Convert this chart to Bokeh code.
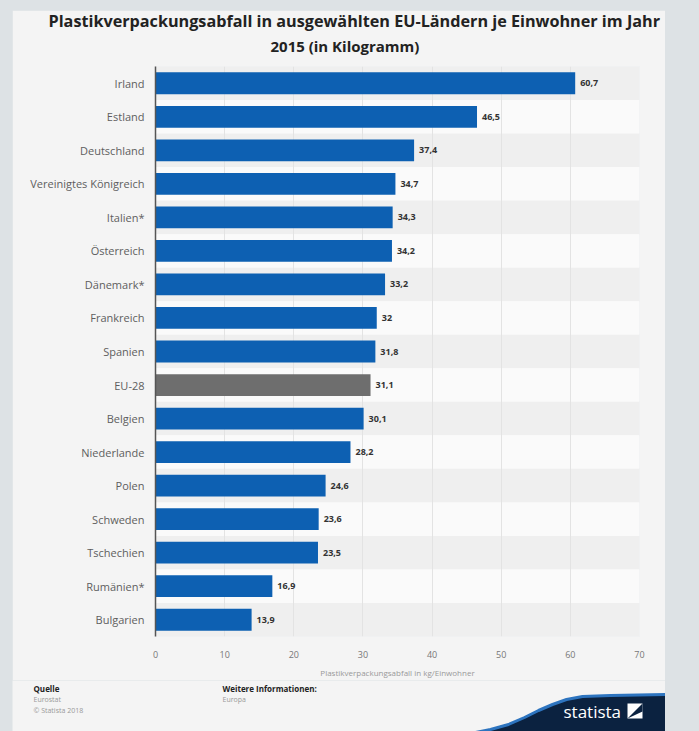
from bokeh.plotting import figure
from bokeh.layouts import column, row
from bokeh.models import FactorRange, Range1d, FixedTicker, ColumnDataSource, Title, Spacer
from bokeh.core.properties import value
from bokeh.embed import file_html
from bokeh.resources import INLINE

countries = ["Irland", "Estland", "Deutschland", "Vereinigtes Königreich", "Italien*",
             "Österreich", "Dänemark*", "Frankreich", "Spanien", "EU-28", "Belgien",
             "Niederlande", "Polen", "Schweden", "Tschechien", "Rumänien*", "Bulgarien"]
values = [60.7, 46.5, 37.4, 34.7, 34.3, 34.2, 33.2, 32, 31.8, 31.1, 30.1, 28.2,
          24.6, 23.6, 23.5, 16.9, 13.9]
x_ticks = [0, 10, 20, 30, 40, 50, 60, 70]

title_1 = "Plastikverpackungsabfall in ausgewählten EU-Ländern je Einwohner im Jahr"
title_2 = "2015 (in Kilogramm)"
x_label = "Plastikverpackungsabfall in kg/Einwohner"
source_head = "Quelle"
source_lines = ["Eurostat", "© Statista 2018"]
info_head = "Weitere Informationen:"
info_lines = ["Europa"]
brand = "statista"

BLUE = "#0d60b2"
GREY_BAR = "#6e6e6e"
PANEL = "#f4f4f4"
OUTER = "#dde2e5"
NAVY = "#0b2240"
FONT = "Open Sans"

def fmt(v):
    return ("%g" % v).replace(".", ",")

colors = [GREY_BAR if c == "EU-28" else BLUE for c in countries]
band_colors = ["#efefef" if i % 2 == 0 else "#fafafa" for i in range(len(countries))]
src = ColumnDataSource(dict(country=countries, val=values, color=colors,
                            label=[fmt(v) for v in values],
                            full=[x_ticks[-1]] * len(countries), band=band_colors))

W = 653
p = figure(width=W, height=670, y_range=FactorRange(*countries[::-1]),
           x_range=Range1d(0, 70), output_backend="svg", toolbar_location=None,
           min_border_left=143, min_border_right=26, min_border_top=56, min_border_bottom=44)
p.border_fill_color = PANEL
p.background_fill_color = "#fafafa"
p.outline_line_color = None

bands = p.hbar(y="country", left=0, right="full", height=1.0, source=src,
               fill_color="band", line_color=None)
bands.level = "image"

p.hbar(y="country", left=0, right="val", height=0.65, source=src,
       fill_color="color", line_color=None)
p.text(x="val", y="country", text="label", source=src, x_offset=5,
       text_font=value(FONT), text_font_size="9px", text_font_style="bold",
       text_color="#333333", text_baseline="middle", text_align="left")

p.ygrid.grid_line_color = None
p.xgrid.grid_line_color = "#e3e3e3"
p.xgrid.grid_line_width = 1

p.xaxis.ticker = FixedTicker(ticks=x_ticks)
p.xaxis.axis_line_color = None
p.xaxis.major_tick_line_color = None
p.xaxis.minor_tick_line_color = None
p.xaxis.major_label_text_font = FONT
p.xaxis.major_label_text_font_size = "9px"
p.xaxis.major_label_text_color = "#777777"
p.xaxis.major_label_standoff = 8
p.xaxis.axis_label = x_label
p.xaxis.axis_label_text_font = FONT
p.xaxis.axis_label_text_font_size = "8px"
p.xaxis.axis_label_text_font_style = "normal"
p.xaxis.axis_label_text_color = "#999999"
p.xaxis.axis_label_standoff = 6

p.yaxis.axis_line_color = "#555555"
p.yaxis.axis_line_width = 1.5
p.yaxis.major_tick_line_color = None
p.yaxis.minor_tick_line_color = None
p.yaxis.major_tick_out = 0
p.yaxis.major_tick_in = 0
p.yaxis.major_label_text_font = FONT
p.yaxis.major_label_text_font_size = "11px"
p.yaxis.major_label_text_color = "#5e5e5e"
p.yaxis.major_label_standoff = 11

p.add_layout(Title(text=title_2, align="left", offset=115, text_font=FONT,
                   text_font_size="15px", text_font_style="bold", text_color="#222222",
                   standoff=22), "above")
p.add_layout(Title(text=title_1, align="left", offset=-107, text_font=FONT,
                   text_font_size="16.2px", text_font_style="bold", text_color="#222222",
                   standoff=-18), "above")

# footer strip: data coordinates equal page pixels (y downward)
FH = 51
f = figure(width=W, height=FH, x_range=Range1d(12, 12 + W), y_range=Range1d(731, 731 - FH),
           output_backend="svg", toolbar_location=None, x_axis_type=None, y_axis_type=None,
           min_border=0)
f.border_fill_color = PANEL
f.background_fill_color = PANEL
f.outline_line_color = None
f.grid.visible = False

for fig in (p, f):
    if "frame_align" in fig.properties():
        fig.frame_align = False

f.text(x=[33], y=[688], text=[source_head], text_font=value(FONT), text_font_size="8px",
       text_font_style="bold", text_color="#222222", text_baseline="middle")
f.text(x=[33, 33], y=[699, 710], text=source_lines, text_font=value(FONT),
       text_font_size="7px", text_color="#999999", text_baseline="middle")
f.text(x=[222], y=[688], text=[info_head], text_font=value(FONT), text_font_size="8px",
       text_font_style="bold", text_color="#222222", text_baseline="middle")
f.text(x=[222], y=[699], text=info_lines, text_font=value(FONT),
       text_font_size="7px", text_color="#999999", text_baseline="middle")

wave_x = [470, 490, 508, 524, 538, 552, 566, 582, 610, 665]
wave_y = [733, 729, 724, 717, 710, 704, 699, 696, 695, 694]
f.patch(x=wave_x + [665], y=wave_y + [733], fill_color=NAVY, line_color=None)
f.line(x=wave_x, y=wave_y, line_color="#2d74bf", line_width=3)
f.text(x=[563], y=[711], text=[brand], text_font=value(FONT), text_font_size="17px",
       text_color="white", text_baseline="middle")
f.quad(left=[627], right=[642], top=[703], bottom=[718], fill_color="white", line_color=None)
f.patch(x=[627, 642, 642], y=[718, 703, 711], fill_color=NAVY, line_color=None)

left_pad = Spacer(width=12, height=731, styles={"background-color": OUTER})
top_pad = Spacer(width=W, height=10, styles={"background-color": OUTER})
right_pad = Spacer(width=699 - 12 - W, height=731, styles={"background-color": OUTER})
layout = row(left_pad, column(top_pad, p, f, spacing=0), right_pad, spacing=0)

html = file_html(layout, INLINE)
style = "<style>html{background:%s;}</style>" % OUTER
html = html.replace("</head>", style + "</head>", 1)
open("out.html", "w").write(html)
